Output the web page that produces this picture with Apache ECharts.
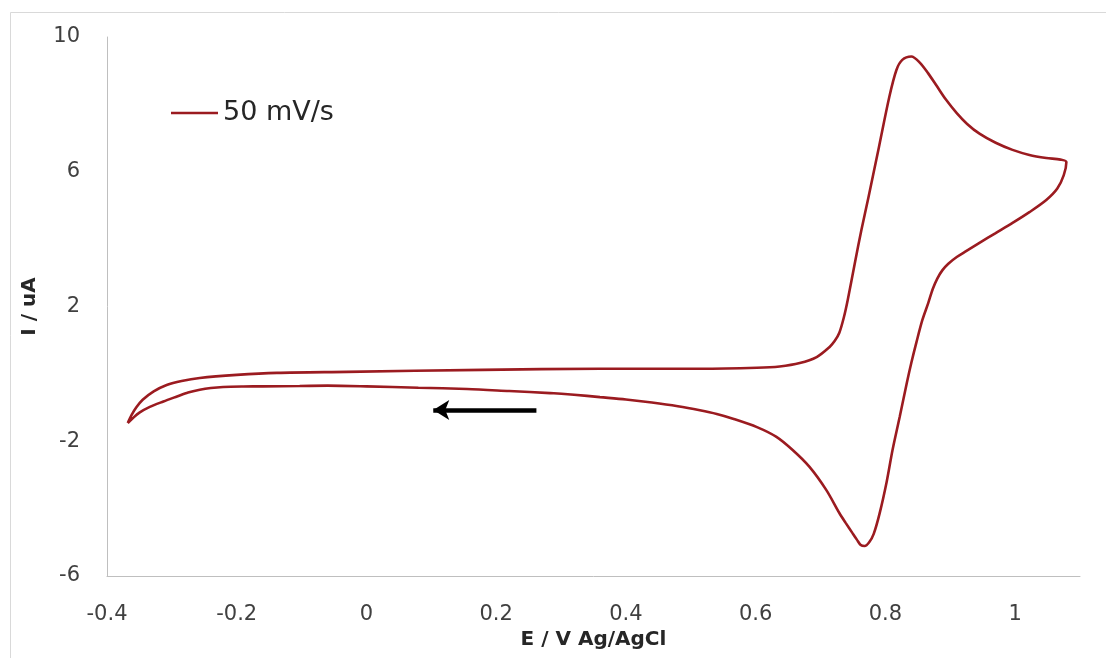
<!DOCTYPE html>
<html>
<head>
<meta charset="utf-8">
<script src="https://cdn.jsdelivr.net/npm/echarts@6/dist/echarts.min.js"></script>
<style>
  html, body { margin: 0; padding: 0; background: #ffffff; }
  #chart { width: 1106px; height: 658px; }
</style>
</head>
<body>
<div id="chart"></div>
<script>
// Cyclic voltammogram, 50 mV/s scan, potential vs Ag/AgCl
// Anodic sweep (upper branch), from the negative vertex to the positive vertex
const forwardE = [-0.368, -0.362, -0.355, -0.345, -0.328, -0.308, -0.285, -0.257, -0.2, -0.138,
  -0.03, 0.179, 0.36, 0.514, 0.602, 0.637, 0.668, 0.694, 0.714, 0.722, 0.729, 0.736, 0.742, 0.753,
  0.763, 0.774, 0.79, 0.806, 0.817, 0.826, 0.84, 0.853, 0.866, 0.879, 0.893, 0.91,
  0.926, 0.945, 0.97, 0.996, 1.022, 1.048, 1.07, 1.079];
const forwardI = [-1.46, -1.22, -1.0, -0.77, -0.52, -0.33, -0.21, -0.12, -0.03, 0.03,
  0.06, 0.12, 0.15, 0.15, 0.18, 0.22, 0.32, 0.5, 0.8, 0.98, 1.22, 1.68, 2.2, 3.3,
  4.27, 5.25, 6.73, 8.22, 9.02, 9.32, 9.42, 9.24, 8.92, 8.55, 8.15, 7.74,
  7.42, 7.13, 6.86, 6.65, 6.5, 6.41, 6.36, 6.29];

// Cathodic sweep (lower branch), from the positive vertex back to the negative vertex
const reverseE = [1.075, 1.065, 1.048, 1.022, 0.996, 0.97, 0.945, 0.925, 0.91, 0.897, 0.888,
  0.88, 0.873, 0.866, 0.857, 0.848, 0.84, 0.833, 0.822, 0.811, 0.802, 0.791, 0.782, 0.775,
  0.768, 0.762, 0.756, 0.749, 0.739, 0.729, 0.709, 0.683, 0.657, 0.632, 0.602, 0.565,
  0.54, 0.514, 0.48, 0.44, 0.4, 0.36, 0.32, 0.283, 0.22, 0.155, 0.08, 0.0, -0.06, -0.103,
  -0.16, -0.19, -0.221, -0.24, -0.257, -0.275, -0.292, -0.313, -0.334, -0.35, -0.36, -0.368];
const reverseI = [5.9, 5.5, 5.16, 4.8, 4.48, 4.18, 3.89, 3.65, 3.47, 3.27, 3.08,
  2.83, 2.52, 2.1, 1.6, 0.95, 0.33, -0.27, -1.28, -2.26, -3.2, -4.15, -4.75, -5.0,
  -5.11, -5.08, -4.92, -4.72, -4.43, -4.13, -3.45, -2.76, -2.26, -1.87, -1.58, -1.33,
  -1.19, -1.08, -0.96, -0.85, -0.76, -0.69, -0.62, -0.57, -0.51, -0.45, -0.41, -0.37, -0.35, -0.36,
  -0.37, -0.375, -0.39, -0.42, -0.47, -0.55, -0.67, -0.82, -0.98, -1.15, -1.31, -1.46];

// Axis labels
const xTicks = [-0.4, -0.2, 0, 0.2, 0.4, 0.6, 0.8, 1];
const yTicks = [-6, -2, 2, 6, 10];

// Scan-direction arrow on the cathodic branch: [E, I] of tail and head
const arrowTail = [0.262, -1.07];
const arrowHead = [0.103, -1.07];

const seriesName = '50 mV/s';

const loop = [];
forwardE.forEach((e, i) => loop.push([e, forwardI[i]]));
reverseE.forEach((e, i) => loop.push([e, reverseI[i]]));

const FONT = 'DejaVu Sans';
const chart = echarts.init(document.getElementById('chart'), null, { renderer: 'canvas' });

chart.setOption({
  backgroundColor: '#ffffff',
  animation: false,
  graphic: [{
    type: 'rect',
    shape: { x: 10.5, y: 12.5, width: 1110, height: 660 },
    style: { fill: 'none', stroke: '#d9d9d9', lineWidth: 1 },
    silent: true,
    z: -1
  }],
  grid: { left: 107, top: 37, right: 26, bottom: 82, containLabel: false },
  legend: {
    left: 166,
    top: 92,
    itemWidth: 47,
    itemHeight: 14,
    itemGap: 5,
    textStyle: { fontFamily: FONT, fontSize: 27, color: '#262626', lineHeight: 32 },
    data: [{ name: seriesName, icon: 'path://M0,6 L48,6 L48,8.5 L0,8.5 Z' }]
  },
  xAxis: {
    type: 'value',
    min: -0.4,
    max: 1.1,
    name: 'E / V Ag/AgCl',
    nameLocation: 'middle',
    nameGap: 47,
    nameTextStyle: { fontFamily: FONT, fontSize: 20, fontWeight: 'bold', color: '#262626' },
    axisLine: { show: true, onZero: false, lineStyle: { color: '#bfbfbf', width: 1 } },
    axisTick: { show: false },
    splitLine: { show: false },
    axisLabel: {
      customValues: xTicks,
      fontFamily: FONT, fontSize: 21, color: '#404040', margin: 28,
      formatter: v => String(Math.round(v * 10) / 10)
    }
  },
  yAxis: {
    type: 'value',
    min: -6,
    max: 10,
    name: 'I / uA',
    nameLocation: 'middle',
    nameGap: 67,
    nameRotate: 90,
    nameTextStyle: { fontFamily: FONT, fontSize: 20, fontWeight: 'bold', color: '#262626' },
    axisLine: { show: true, onZero: false, lineStyle: { color: '#bfbfbf', width: 1 } },
    axisTick: { show: false },
    splitLine: { show: false },
    axisLabel: {
      customValues: yTicks,
      fontFamily: FONT, fontSize: 21, color: '#404040', margin: 27
    }
  },
  series: [{
    name: seriesName,
    type: 'line',
    data: loop,
    showSymbol: false,
    symbol: 'none',
    smooth: 0.3,
    color: '#9b1b20',
    lineStyle: { color: '#9b1b20', width: 2.6 },
    silent: true,
    markLine: {
      silent: true,
      animation: false,
      symbolSize: [15, 16],
      label: { show: false },
      lineStyle: { color: '#000000', width: 4.5, type: 'solid' },
      data: [[
        { coord: arrowTail, symbol: 'none' },
        { coord: arrowHead, symbol: 'arrow' }
      ]]
    }
  }]
});
</script>
</body>
</html>
